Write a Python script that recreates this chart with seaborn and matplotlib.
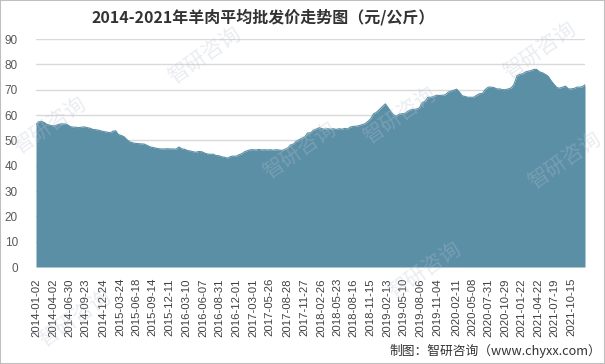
import pandas as pd
import seaborn as sns
import matplotlib.pyplot as plt
import matplotlib.dates as mdates
from matplotlib.patches import Rectangle

# --------------------------------------------------
# Data: semi-monthly readings (1st / 15th), yuan per kg
# --------------------------------------------------
price_2014 = [56.2, 57.3, 57.5, 57.0, 56.3, 56.0, 55.7, 55.8, 56.3, 56.5, 56.5, 56.3,
              55.5, 55.2, 55.2, 55.0, 55.2, 55.3, 55.0, 54.8, 54.3, 54.2, 54.0, 53.7]
price_2015 = [53.4, 53.2, 53.0, 53.6, 53.8, 52.3, 51.9, 51.4, 50.2, 49.4, 49.0, 48.8,
              48.7, 48.6, 48.5, 48.0, 47.4, 47.2, 46.9, 46.7, 46.6, 46.6, 46.7, 46.6]
price_2016 = [46.6, 46.5, 47.4, 46.6, 46.5, 46.0, 45.8, 45.5, 45.3, 45.6, 45.5, 45.0,
              44.6, 44.5, 44.5, 44.0, 43.9, 43.5, 43.3, 43.0, 43.6, 43.8, 43.7, 44.3]
price_2017 = [44.8, 45.5, 46.0, 46.3, 46.3, 46.2, 46.4, 46.2, 46.3, 46.2, 46.3, 46.1,
              46.3, 46.2, 46.0, 46.4, 47.0, 48.2, 48.5, 49.6, 50.3, 50.9, 51.5, 52.9]
price_2018 = [53.0, 54.0, 54.5, 55.0, 54.6, 54.4, 54.6, 54.4, 54.6, 54.3, 54.6, 54.4,
              54.7, 54.5, 55.3, 55.5, 55.6, 55.8, 56.2, 56.5, 57.5, 58.5, 60.5, 61.0]
price_2019 = [62.2, 63.2, 64.4, 63.0, 61.5, 60.2, 59.5, 60.3, 60.5, 60.6, 61.5, 62.0,
              62.2, 62.3, 62.8, 64.8, 65.5, 67.0, 67.0, 67.3, 67.8, 67.7, 67.8, 67.9]
price_2020 = [69.0, 69.4, 69.8, 70.2, 69.0, 67.6, 67.3, 67.0, 67.0, 67.0, 67.8, 68.4,
              68.5, 70.0, 71.0, 71.0, 70.8, 70.3, 70.3, 70.0, 70.0, 70.3, 70.7, 72.0]
price_2021 = [75.5, 76.0, 76.3, 77.0, 77.3, 77.5, 78.0, 78.0, 77.0, 76.7, 76.0, 75.3,
              73.5, 72.2, 70.8, 70.6, 71.0, 71.4, 70.3, 70.3, 70.5, 71.0, 71.0, 71.2]
price_last = 72.0  # 2021-12-28

tick_labels = [
    "2014-01-02", "2014-04-02", "2014-06-30", "2014-09-23", "2014-12-24",
    "2015-03-24", "2015-06-18", "2015-09-14", "2015-12-11", "2016-03-10",
    "2016-06-07", "2016-08-31", "2016-12-01", "2017-03-01", "2017-05-26",
    "2017-08-28", "2017-11-27", "2018-02-26", "2018-05-23", "2018-08-16",
    "2018-11-15", "2019-02-13", "2019-05-10", "2019-08-06", "2019-11-04",
    "2020-02-11", "2020-05-08", "2020-07-31", "2020-10-29", "2021-01-22",
    "2021-04-22", "2021-07-19", "2021-10-15",
]

title = "2014-2021年羊肉平均批发价走势图（元/公斤）"
source = "制图：智研咨询（www.chyxx.com）"

# ----------------------------
# Build table
# ----------------------------
dates = list(pd.date_range("2014-01-01", "2021-12-15", freq="SMS"))
dates[0] = pd.Timestamp("2014-01-02")
dates.append(pd.Timestamp("2021-12-28"))
prices = (price_2014 + price_2015 + price_2016 + price_2017 + price_2018
          + price_2019 + price_2020 + price_2021 + [price_last])
df = pd.DataFrame({"date": dates, "price": prices})

# ----------------------------
# Style
# ----------------------------
sns.set_theme(style="white")
plt.rcParams["font.family"] = ["Noto Sans CJK SC", "DejaVu Sans"]

area_color = "#5b8fa6"

fig = plt.figure(figsize=(6.05, 3.64), dpi=100)
ax = fig.add_axes([36 / 605, 1 - 267 / 364, 549 / 605, 228 / 364])

sns.lineplot(data=df, x="date", y="price", color=area_color, lw=0.8, ax=ax, zorder=3)
ax.fill_between(df["date"], df["price"], 0, color=area_color, lw=0, zorder=3)

ax.set_xlim(pd.Timestamp("2014-01-02"), pd.Timestamp("2021-12-28"))
ax.set_ylim(0, 90)
ax.set_yticks(range(0, 91, 10))
ax.yaxis.grid(True, color="#d9d9d9", lw=1)
ax.set_axisbelow(True)
for s in ax.spines.values():
    s.set_visible(False)

ax.set_xticks([mdates.date2num(pd.Timestamp(d)) for d in tick_labels])
ax.set_xticklabels(tick_labels, rotation=90, fontsize=8.2,
                   color="#404040", family="Liberation Sans")
ax.tick_params(axis="x", length=0, pad=8)
ax.tick_params(axis="y", length=0, pad=13, labelsize=8.5, labelcolor="#595959")
for lab in ax.get_yticklabels():
    lab.set_family("Liberation Sans")
ax.set_xlabel("")
ax.set_ylabel("")

fig.text(0.435, 1 - 17 / 364, title, ha="center", va="center",
         fontsize=11.5, fontweight="bold", color="#333333")
fig.text(0.993, 1 - 351 / 364, source, ha="right", va="center",
         fontsize=9.2, color="#333333")

# faint watermarks
for wx, wy in [(205, 55), (50, 125), (300, 150), (400, 115), (540, 50),
               (565, 160), (75, 318), (425, 270)]:
    fig.text(wx / 605, 1 - wy / 364, "智研咨询", rotation=35, ha="center",
             va="center", fontsize=15, color="#b8c2d0", alpha=0.3, zorder=10)

fig.patches.append(Rectangle((0, 0), 1, 1, transform=fig.transFigure,
                             fill=False, edgecolor="#bfbfbf", lw=1.5))

fig.savefig("out.png", dpi=100)
plt.close(fig)
